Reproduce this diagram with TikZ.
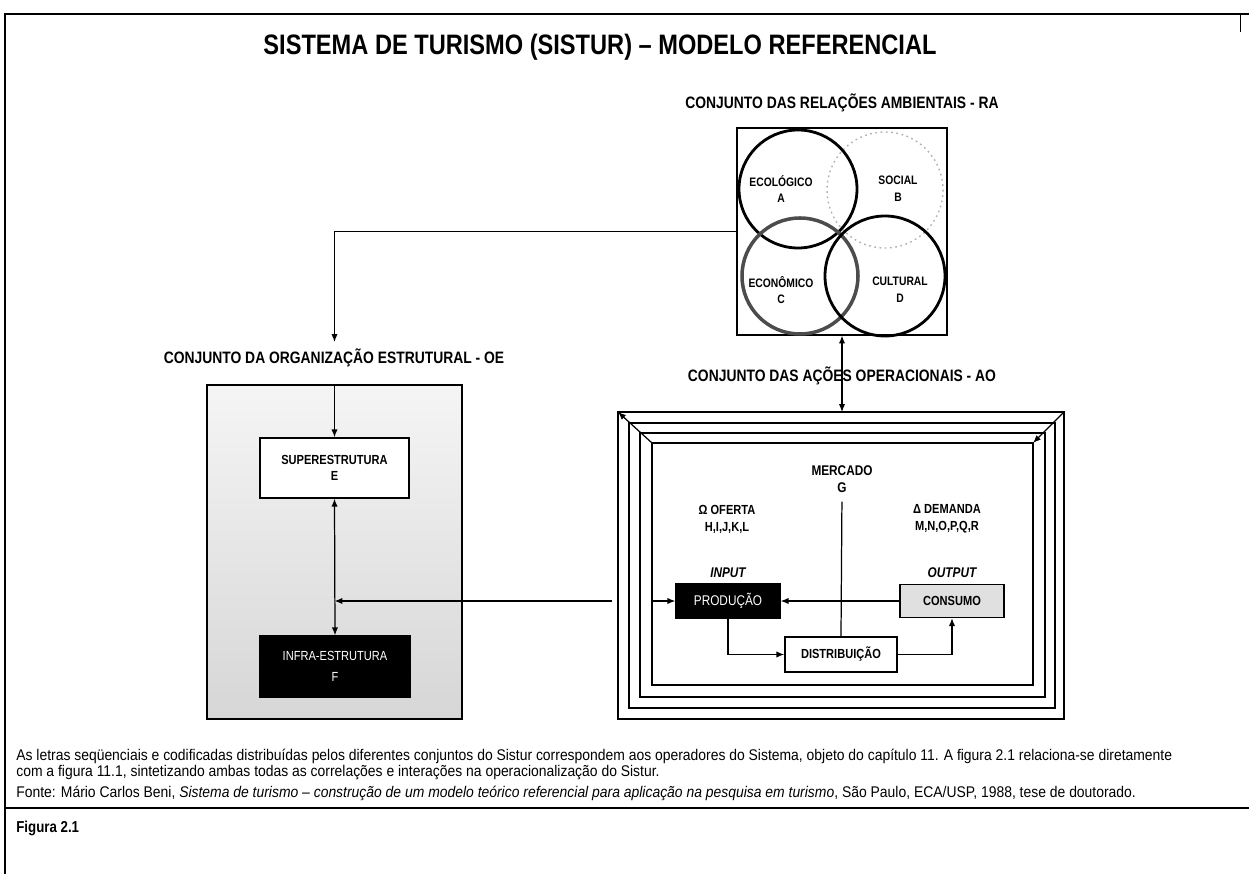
\documentclass[tikz,border=0pt]{standalone}
\usepackage{fontspec}
\setmainfont{Liberation Sans}
\newfontfamily\narrowfont{Liberation Sans}[FakeStretch=0.84]
\newfontfamily\notefont{Liberation Sans}[FakeStretch=0.9]
\usetikzlibrary{positioning, arrows.meta, calc}

\begin{document}
\begin{tikzpicture}[x=0.02cm, y=-0.02cm,
    conj/.style={font=\narrowfont\bfseries\fontsize{9.4}{11}\selectfont, inner sep=0pt},
    vlbl/.style={font=\narrowfont\bfseries\fontsize{7}{9.6}\selectfont, align=center, inner sep=0pt},
    blk/.style={draw, line width=0.8pt, align=center, inner sep=0pt, font=\narrowfont\bfseries\fontsize{7.5}{9}\selectfont},
    ring/.style={line width=1.6pt},
    arr/.style={-{Latex[length=4.5pt,width=3.6pt]}, line width=0.7pt},
    darr/.style={{Latex[length=4.5pt,width=3.6pt]}-{Latex[length=4.5pt,width=3.6pt]}, line width=0.7pt},
    frame/.style={line width=0.8pt},
    note/.style={font=\notefont\fontsize{8.8}{10}\selectfont, anchor=west, inner sep=0pt}
]
    \useasboundingbox (0,0) rectangle (1249,874);
    % page frame
    \draw[line width=0.8pt] (5,874) -- (5,14) -- (1249,14);
    \draw[line width=0.4pt] (1240,14) -- (1240,32);
    \node[font=\narrowfont\bfseries\fontsize{16}{19}\selectfont] (title) at (600,47) {SISTEMA DE TURISMO (SISTUR) – MODELO REFERENCIAL};

    % relacoes ambientais
    \node[conj] (ralbl) at (842,103) {CONJUNTO DAS RELAÇÕES AMBIENTAIS - RA};
    \node[draw, line width=0.7pt, minimum width=4.2cm, minimum height=4.14cm] (ra) at (842,231.5) {};
    \draw[black!30, line width=0.8pt, dash pattern=on 1pt off 2pt] (885,190) circle[radius=58];
    \draw[ring] (798,189) circle[radius=59];
    \draw[ring, black!70, line width=2pt] (800,276) circle[radius=58];
    \draw[ring] (885,276) circle[radius=60];
    \node[vlbl] (eco) at (781,189) {ECOLÓGICO\\A};
    \node[vlbl] (soc) at (898,189) {SOCIAL\\B};
    \node[vlbl] (econ) at (781,290) {ECONÔMICO\\C};
    \node[vlbl] (cult) at (900,290) {CULTURAL\\D};

    % organizacao estrutural
    \node[conj] (oelbl) at (334,358) {CONJUNTO DA ORGANIZAÇÃO ESTRUTURAL - OE};
    \node[draw, line width=0.8pt, top color=black!4, bottom color=black!16, minimum width=5.1cm, minimum height=6.68cm] (oe) at (334.5,552) {};
    \node[blk, fill=white, minimum width=2.98cm, minimum height=1.2cm] (super) at (334.5,468) {SUPERESTRUTURA\\E};
    \node[blk, fill=black, text=white, font=\narrowfont\fontsize{7.5}{12}\selectfont, minimum width=3cm, minimum height=1.22cm] (infra) at (335,666.5) {INFRA-ESTRUTURA\\F};
    \coordinate (oetop) at (334.5,342);
    \coordinate (oemid) at (334.5,601);

    % acoes operacionais
    \node[conj] (aolbl) at (842,376) {CONJUNTO DAS AÇÕES OPERACIONAIS - AO};
    \foreach \k/\l/\t/\r/\b in {1/618/412/1064/719, 2/629/423/1055/708, 3/640/433/1045/697, 4/652/443/1033/685} {
        \draw[frame] (\l,\t) rectangle (\r,\b);
        \coordinate (nw\k) at (\l,\t);
        \coordinate (ne\k) at (\r,\t);
    }
    \node[vlbl, font=\narrowfont\bfseries\fontsize{8}{9.6}\selectfont] (merc) at (842,479) {MERCADO\\G};
    \node[vlbl, font=\narrowfont\bfseries\fontsize{7.5}{9.6}\selectfont] (ofer) at (727,519) {Ω OFERTA\\H,I,J,K,L};
    \node[vlbl, font=\narrowfont\bfseries\fontsize{7.5}{9.6}\selectfont] (dem) at (947,519) {Δ DEMANDA\\M,N,O,P,Q,R};
    \node[vlbl, font=\narrowfont\bfseries\itshape\fontsize{8}{9.6}\selectfont] (inp) at (728,573) {INPUT};
    \node[vlbl, font=\narrowfont\bfseries\itshape\fontsize{8}{9.6}\selectfont] (outp) at (952,573) {OUTPUT};
    \node[blk, fill=black, text=white, font=\narrowfont\fontsize{8}{9}\selectfont, minimum width=2.08cm, minimum height=0.68cm] (prod) at (728,601) {PRODUÇÃO};
    \node[blk, fill=black!12, minimum width=2.08cm, minimum height=0.66cm] (cons) at (952,601) {CONSUMO};
    \node[blk, fill=white, minimum width=2.24cm, minimum height=0.7cm] (dist) at (841,654.5) {DISTRIBUIÇÃO};

    % ligacoes
    \draw[arr] (ra.west) -| (oetop);
    \draw[arr] (oe.north) -- (super.north);
    \draw[darr] (super.south) -- (infra.north);
    \draw[darr] (ra.south) -- (ra.south |- nw1);
    \draw[arr] ($(nw1 |- prod)+(-6,0)$) -- (oemid);
    \draw[arr] (nw4 |- prod) -- (prod.west);
    \draw[arr] (cons.west) -- (prod.east);
    \draw[arr] (prod.south) |- (dist.west);
    \draw[arr] (dist.east) -| (cons.south);
    \draw[line width=0.7pt, shorten <=5pt] (merc.south) -- (dist.north);
    \draw[arr] (nw4) -- (nw1);
    \draw[arr] (ne1) -- (ne4);

    % notas
    \node[note] (nota1) at (16,756) {As letras seqüenciais e codificadas distribuídas pelos diferentes conjuntos do Sistur correspondem aos operadores do Sistema, objeto do capítulo 11. A figura 2.1 relaciona-se diretamente};
    \node[note] (nota2) at (16,773) {com a figura 11.1, sintetizando ambas todas as correlações e interações na operacionalização do Sistur.};
    \node[note] (fonte) at (16,793) {Fonte: Mário Carlos Beni, \textit{Sistema de turismo – construção de um modelo teórico referencial para aplicação na pesquisa em turismo}, São Paulo, ECA/USP, 1988, tese de doutorado.};
    \draw[line width=1.2pt] (5,808) -- (1249,808);
    \node[note, font=\narrowfont\bfseries\fontsize{9}{10}\selectfont] (fig) at (16,828) {Figura 2.1};
\end{tikzpicture}
\end{document}
